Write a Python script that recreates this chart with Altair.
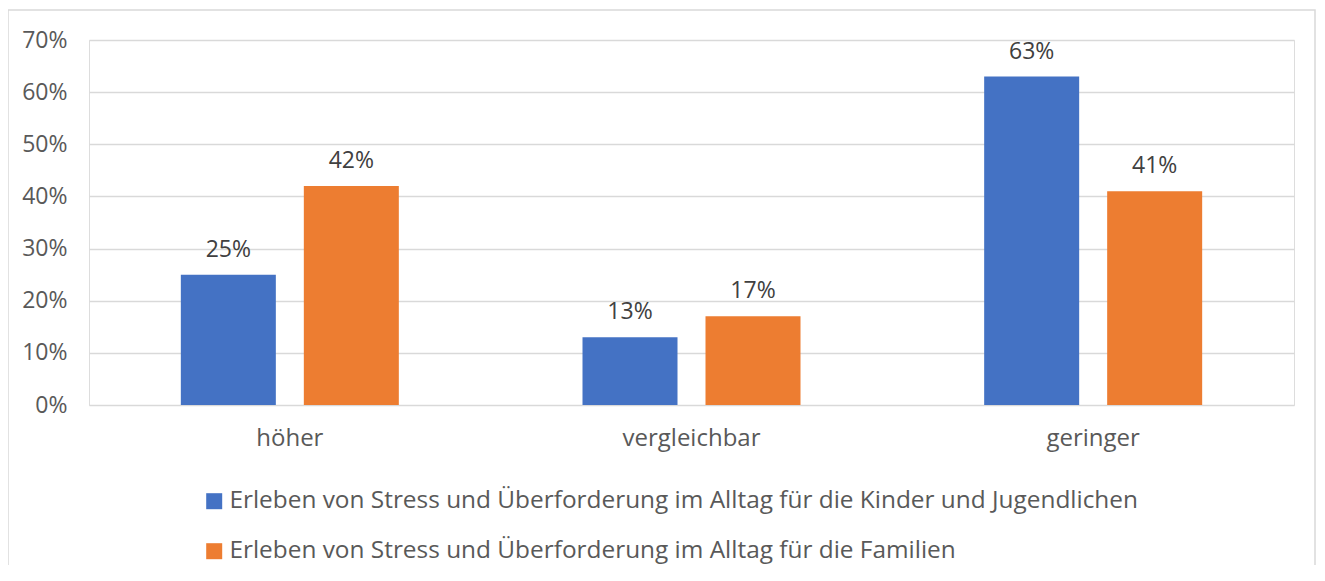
import altair as alt
import pandas as pd

categories = ["höher", "vergleichbar", "geringer"]
series = [
    "Erleben von Stress und Überforderung im Alltag für die Kinder und Jugendlichen",
    "Erleben von Stress und Überforderung im Alltag für die Familien",
]
kinder = [0.25, 0.13, 0.63]
familien = [0.42, 0.17, 0.41]
y_ticks = [0, 0.1, 0.2, 0.3, 0.4, 0.5, 0.6, 0.7]
colors = ["#4472C4", "#ED7D31"]

rows = []
for i, c in enumerate(categories):
    rows.append({"kategorie": c, "serie": series[0], "wert": kinder[i]})
    rows.append({"kategorie": c, "serie": series[1], "wert": familien[i]})
df = pd.DataFrame(rows)

FONT = "Open Sans"
FS_TEXT = 24
FS_NUM = 23

x = alt.X(
    "kategorie:N", sort=categories,
    scale=alt.Scale(paddingInner=0, paddingOuter=0),
    axis=alt.Axis(title=None, labelAngle=0, domain=False, ticks=False, grid=False,
                  labelPadding=21, labelFontSize=FS_TEXT, labelColor="#595959", labelFont=FONT),
)
xo = alt.XOffset("serie:N", sort=series,
                 scale=alt.Scale(paddingInner=0.2276, paddingOuter=0.7466))
y = alt.Y(
    "wert:Q",
    scale=alt.Scale(domain=[0, 0.7], nice=False),
    axis=alt.Axis(title=None, format=".0%", values=y_ticks, domain=False, ticks=False,
                  labelPadding=22, labelFontSize=FS_NUM, labelColor="#595959", labelFont=FONT,
                  gridColor="#d9d9d9", gridWidth=1.5),
)
color = alt.Color(
    "serie:N", sort=series,
    scale=alt.Scale(domain=series, range=colors),
    legend=alt.Legend(title=None, orient="none", legendX=113, legendY=449,
                      direction="vertical", symbolType="square", symbolSize=256,
                      symbolStrokeWidth=0, labelFontSize=24.4, labelColor="#595959",
                      labelFont=FONT, labelLimit=0, rowPadding=25, labelOffset=3),
)

base = alt.Chart(df)
bars = base.mark_bar().encode(x=x, xOffset=xo, y=y, color=color)
labels = base.mark_text(baseline="bottom", dy=-13, fontSize=FS_NUM, color="#404040",
                        font=FONT).encode(
    x=x, xOffset=xo, y=y, text=alt.Text("wert:Q", format=".0%")
)
border = alt.Chart(alt.Data(values=[{}])).mark_rect(
    filled=False, stroke="#d9d9d9", strokeWidth=1.5
).encode(x=alt.value(-81), x2=alt.value(1226), y=alt.value(-30), y2=alt.value(600))

chart = alt.layer(border, bars, labels).properties(
    width=1205, height=365,
    autosize=alt.AutoSizeParams(type="none"),
    padding={"left": 81, "top": 32, "right": 22, "bottom": 160},
).configure_view(stroke=None).configure(background="white")

chart.save("out.html", embed_options={"renderer": "svg", "actions": False})
